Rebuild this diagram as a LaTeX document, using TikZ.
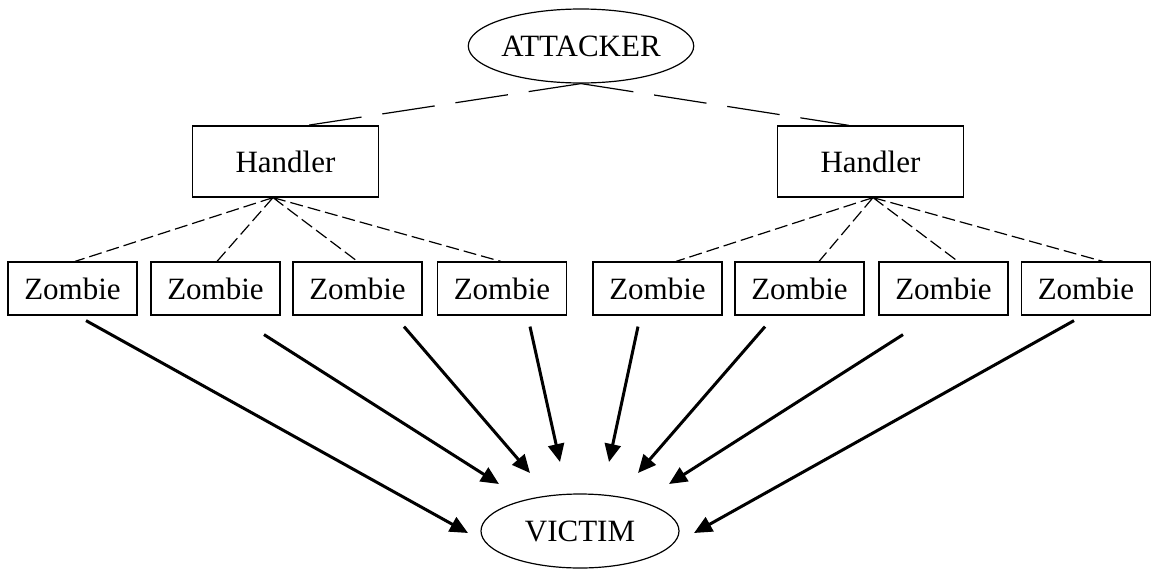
\documentclass[tikz,border=0pt]{standalone}
\usepackage{fontspec}
\setmainfont{Liberation Serif}
\usetikzlibrary{shapes.geometric,arrows.meta,calc}
\tikzset{
  actor/.style = {draw, ellipse, line width=0.6pt, inner sep=0pt,
    minimum width=99pt, minimum height=37pt},
  hdlbox/.style = {draw, rectangle, line width=0.6pt, inner sep=0pt,
    minimum width=93pt, minimum height=35.5pt},
  zmbbox/.style = {draw, rectangle, line width=0.6pt, inner sep=0pt,
    minimum width=64.5pt, minimum height=26.5pt},
  ctrl/.style = {line width=0.6pt, dash pattern=on 26.5pt off 10.5pt},
  bots/.style = {line width=0.6pt, dash pattern=on 6.5pt off 2.5pt},
  flood/.style = {line width=1.5pt, -{Triangle[length=9pt,width=8pt]}}
}

\begin{document}
\begin{tikzpicture}[x=0.5pt,y=-0.5pt,
    every node/.style={font=\fontsize{15.5pt}{18pt}\selectfont}]
  \useasboundingbox (0,0) rectangle (1151,568);

  \node[actor] (att) at (581,46) {ATTACKER};
  \node[actor] (vic) at (580,531) {VICTIM};

  \node[hdlbox] (hdlL) at (285.5,161.5) {Handler};
  \node[hdlbox] (hdlR) at (870.5,161.5) {Handler};

  \node[zmbbox] (zmb1) at (72.5,288.5) {Zombie};
  \node[zmbbox] (zmb2) at (215.5,288.5) {Zombie};
  \node[zmbbox] (zmb3) at (357.5,288.5) {Zombie};
  \node[zmbbox] (zmb4) at (502,288.5) {Zombie};
  \node[zmbbox] (zmb5) at (657.5,288.5) {Zombie};
  \node[zmbbox] (zmb6) at (799.5,288.5) {Zombie};
  \node[zmbbox] (zmb7) at (943.5,288.5) {Zombie};
  \node[zmbbox] (zmb8) at (1086,288.5) {Zombie};

  % attacker to handlers
  \draw[ctrl]
    (att.south) -- ($(hdlL.north)+(21.5,0)$)
    (att.south) -- ($(hdlR.north)+(-21.5,0)$);

  % handlers to zombies
  \draw[bots]
    ($(hdlL.south)+(-12.5,0)$) -- ($(zmb1.north)+(2.5,0)$)
    ($(hdlL.south)+(-12.5,0)$) -- ($(zmb2.north)+(1.5,0)$)
    ($(hdlL.south)+(-12.5,0)$) -- (zmb3.north)
    ($(hdlL.south)+(-12.5,0)$) -- ($(zmb4.north)+(-1,0)$)
    ($(hdlR.south)+(2.5,0)$) -- ($(zmb5.north)+(18.5,0)$)
    ($(hdlR.south)+(2.5,0)$) -- ($(zmb6.north)+(19.5,0)$)
    ($(hdlR.south)+(2.5,0)$) -- ($(zmb7.north)+(14.5,0)$)
    ($(hdlR.south)+(2.5,0)$) -- ($(zmb8.north)+(17,0)$);

  % zombies to victim
  \draw[flood] ($(zmb1.south)+(13.5,5)$) -- ($(vic)+(-112,2)$);
  \draw[flood] ($(zmb2.south)+(48.5,19)$) -- ($(vic)+(-81,-47)$);
  \draw[flood] ($(zmb3.south)+(46.5,11)$) -- ($(vic)+(-50,-58)$);
  \draw[flood] ($(zmb4.south)+(28,11)$) -- ($(vic)+(-20,-69)$);
  \draw[flood] ($(zmb5.south)+(-19.5,11)$) -- ($(vic)+(29,-69)$);
  \draw[flood] ($(zmb6.south)+(-34.5,11)$) -- ($(vic)+(58,-58)$);
  \draw[flood] ($(zmb7.south)+(-40.5,19)$) -- ($(vic)+(89,-47)$);
  \draw[flood] ($(zmb8.south)+(-12,5)$) -- ($(vic)+(114,2)$);
\end{tikzpicture}
\end{document}
